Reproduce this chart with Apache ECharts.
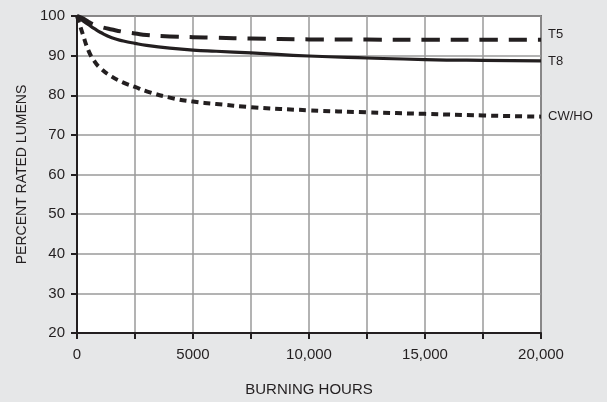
<!DOCTYPE html>
<html><head><meta charset="utf-8">
<script src="https://cdn.jsdelivr.net/npm/echarts@6/dist/echarts.min.js"></script>
<style>html,body{margin:0;padding:0;background:#e6e7e8;}#c{width:607px;height:402px;}</style>
</head><body><div id="c"></div>
<script>
const hours = [0, 250, 500, 750, 1000, 1500, 2000, 2500, 3000, 4000, 5000, 6000, 7500, 10000, 12500, 15000, 17500, 20000];
const t5 =    [100, 99.4, 98.5, 97.8, 97.3, 96.6, 96.0, 95.6, 95.2, 94.85, 94.65, 94.5, 94.3, 94.1, 94.05, 94.0, 94.0, 94.0];
const t8 =    [100, 98.8, 97.8, 96.8, 95.9, 94.5, 93.7, 93.1, 92.6, 91.9, 91.4, 91.1, 90.7, 89.9, 89.4, 89.0, 88.8, 88.7];
const cwho =  [100, 95.4, 91.2, 88.6, 86.9, 84.7, 83.2, 82.1, 81.0, 79.4, 78.4, 77.8, 77.0, 76.2, 75.7, 75.3, 74.9, 74.6];
const seriesNames = ['T5', 'T8', 'CW/HO'];
const xTitle = 'BURNING HOURS';
const yTitle = 'PERCENT RATED LUMENS';

const font = 'Liberation Sans, Arial, sans-serif';
const txt = '#231f20';
function pairs(v){ return hours.map((h,i)=>[h, v[i]]); }
function fmtX(v){ if (v % 5000 !== 0) return ''; return v >= 10000 ? (v/1000) + ',000' : String(v); }

const chart = echarts.init(document.getElementById('c'));
function mk(name, data, type, width, offY){
  return {
    name, type:'line', data: pairs(data), smooth:true, showSymbol:false, symbol:'none',
    lineStyle:{color:'#231f20', width, type, cap:'butt', join:'round'},
    endLabel:{show:true, formatter:name, color:txt, fontFamily:font, fontSize:13, distance:7, offset:[0, offY]},
    z:5, animation:false
  };
}
chart.setOption({
  backgroundColor:'#e6e7e8',
  animation:false,
  grid:{left:77, top:16, right:66, bottom:68, show:true, backgroundColor:'#ffffff', borderColor:'#231f20', borderWidth:1.5},
  xAxis:{type:'value', min:0, max:20000, interval:2500,
    name:xTitle, nameLocation:'middle', nameGap:49, nameTextStyle:{color:txt, fontFamily:font, fontSize:15},
    axisLine:{lineStyle:{color:'#231f20', width:2}},
    axisTick:{show:true, length:6, lineStyle:{color:'#231f20', width:2}},
    axisLabel:{formatter:fmtX, color:txt, fontFamily:font, fontSize:15, margin:14},
    splitLine:{show:true, lineStyle:{color:'#9a9a9a', width:1.5}}
  },
  yAxis:{type:'value', min:20, max:100, interval:10,
    name:yTitle, nameLocation:'middle', nameGap:48, nameRotate:90, nameTextStyle:{color:txt, fontFamily:font, fontSize:14},
    axisLine:{show:true, lineStyle:{color:'#231f20', width:2}},
    axisTick:{show:true, length:6, lineStyle:{color:'#231f20', width:2}},
    axisLabel:{color:txt, fontFamily:font, fontSize:15, margin:12},
    splitLine:{show:true, lineStyle:{color:'#9a9a9a', width:1.5}}
  },
  series:[
    mk(seriesNames[0], t5, [18,11], 4, -5),
    mk(seriesNames[1], t8, 'solid', 3.2, 1),
    mk(seriesNames[2], cwho, [7,5], 4, 0)
  ]
});
</script></body></html>
